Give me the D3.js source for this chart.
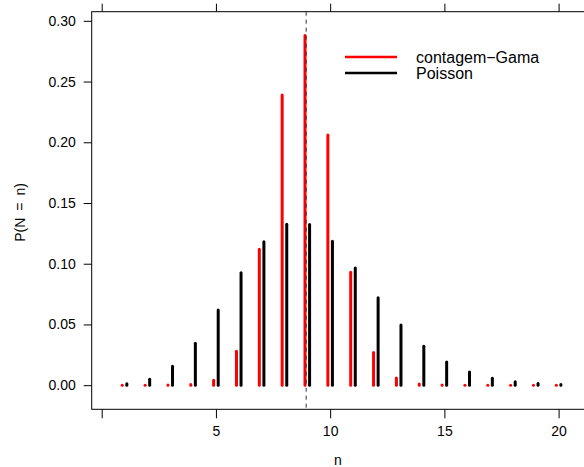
<!DOCTYPE html>
<html>
<head>
<meta charset="utf-8">
<script src="https://cdn.jsdelivr.net/npm/d3@7"></script>
<style>
  body { margin: 0; background: #fff; }
  text { font-family: "Liberation Sans", Arial, sans-serif; fill: #000; }
</style>
</head>
<body>
<div id="chart"></div>
<script>
// Valores -----------------------------------------------------------------------
const n_values   = d3.range(1, 21);
const p_gama     = [0.0000, 0.0000, 0.0001, 0.0005, 0.0040, 0.0280, 0.1120, 0.2390, 0.2880, 0.2060,
                    0.0930, 0.0270, 0.0060, 0.0010, 0.0001, 0.0000, 0.0000, 0.0000, 0.0000, 0.0000];
const p_poisson  = [0.0011, 0.0050, 0.0155, 0.0345, 0.0620, 0.0925, 0.1180, 0.1325, 0.1322, 0.1186,
                    0.0965, 0.0720, 0.0495, 0.0320, 0.0192, 0.0108, 0.0058, 0.0029, 0.0014, 0.0006];
const x_ticks    = [0, 5, 10, 15, 20];
const x_labels   = ['', '5', '10', '15', '20'];
const y_ticks    = [0, 0.05, 0.10, 0.15, 0.20, 0.25, 0.30];
const media      = 8.95;
const legenda    = [{ label: 'contagem\u2212Gama', color: '#ff0000' }, { label: 'Poisson', color: '#000000' }];

const width = 584, height = 467;
const box = { left: 91.7, right: 600, top: 11.7, bottom: 409.3 };

const svg = d3.select('#chart').append('svg')
  .attr('width', width)
  .attr('height', height)
  .attr('viewBox', [0, 0, width, height]);

const x = d3.scaleLinear().domain([0, 20]).range([101.7, 558.6]);
const y = d3.scaleLinear().domain([0, 0.30]).range([385.2, 20.8]);

// caixa
svg.append('rect')
  .attr('x', box.left).attr('y', box.top)
  .attr('width', box.right - box.left).attr('height', box.bottom - box.top)
  .attr('fill', 'none').attr('stroke', '#000').attr('stroke-width', 1);

// eixos
const xAxis = svg.append('g').attr('transform', `translate(0,${box.bottom})`)
  .call(d3.axisBottom(x).tickValues(x_ticks).tickSize(9).tickPadding(8).tickFormat((d, i) => x_labels[i]));
const xTop = svg.append('g').attr('transform', `translate(0,${box.top})`)
  .call(d3.axisTop(x).tickValues(x_ticks).tickSize(8).tickFormat(''));
const yAxis = svg.append('g').attr('transform', `translate(${box.left},0)`)
  .call(d3.axisLeft(y).tickValues(y_ticks).tickSize(8).tickPadding(8).tickFormat(d3.format('.2f')));

[xAxis, xTop, yAxis].forEach(g => {
  g.select('.domain').remove();
  g.selectAll('line').attr('stroke', '#000');
  g.selectAll('text').attr('font-size', 14).attr('fill', '#000')
    .style('font-family', '"Liberation Sans", Arial, sans-serif');
});

// barras
const barras = svg.append('g').attr('stroke-width', 3).attr('stroke-linecap', 'round');

barras.selectAll('line.gama')
  .data(n_values)
  .join('line')
  .attr('class', 'gama')
  .attr('x1', d => x(d - 0.1)).attr('x2', d => x(d - 0.1))
  .attr('y1', y(0)).attr('y2', (d, i) => y(p_gama[i]))
  .attr('stroke', '#ff0000');

barras.selectAll('line.poisson')
  .data(n_values)
  .join('line')
  .attr('class', 'poisson')
  .attr('x1', d => x(d + 0.1)).attr('x2', d => x(d + 0.1))
  .attr('y1', y(0)).attr('y2', (d, i) => y(p_poisson[i]))
  .attr('stroke', '#000');

// linha da média (por cima das barras)
svg.append('line')
  .attr('x1', x(media)).attr('x2', x(media))
  .attr('y1', box.top).attr('y2', box.bottom)
  .attr('stroke', '#333').attr('stroke-width', 1).attr('stroke-dasharray', '4,4');

// títulos
svg.append('text')
  .attr('x', 338).attr('y', 465)
  .attr('text-anchor', 'middle').attr('font-size', 14)
  .text('n');

svg.append('text')
  .attr('transform', `translate(25,${(box.top + box.bottom) / 2 + 2}) rotate(-90)`)
  .attr('text-anchor', 'middle').attr('font-size', 14)
  .text('P(N\u2002=\u2002n)');

// legenda
const leg = svg.append('g').attr('transform', 'translate(345,57)');
leg.selectAll('line')
  .data(legenda)
  .join('line')
  .attr('x1', 0).attr('x2', 52)
  .attr('y1', (d, i) => i * 16).attr('y2', (d, i) => i * 16)
  .attr('stroke', d => d.color).attr('stroke-width', 2.5);
leg.selectAll('text')
  .data(legenda)
  .join('text')
  .attr('x', 71).attr('y', (d, i) => i * 16 + 5.5)
  .attr('font-size', 16)
  .text(d => d.label);
</script>
</body>
</html>
